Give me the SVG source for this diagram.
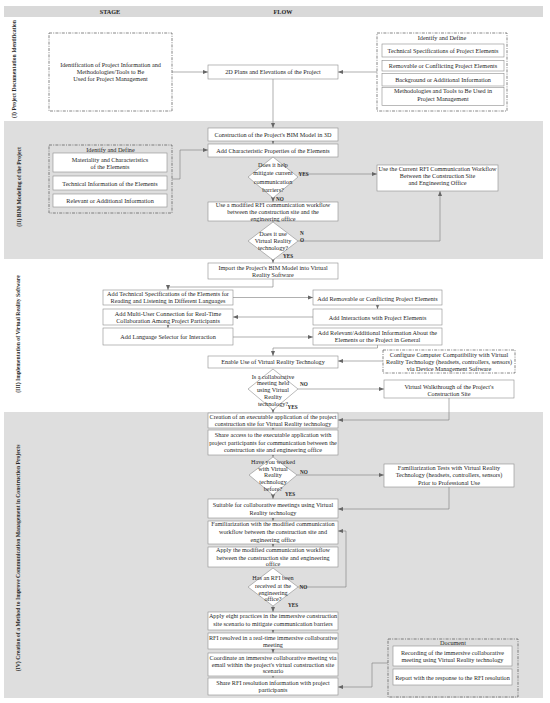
<svg xmlns="http://www.w3.org/2000/svg" width="550" height="703" viewBox="0 0 550 703">
<style>
text{font-family:"Liberation Serif","Times New Roman",serif;font-size:6.2px;fill:#262626;text-anchor:middle}
.b{font-weight:bold}
.lab{font-weight:bold;font-size:5.7px}
.box{fill:#fff;stroke:#8c8c8c;stroke-width:0.6}
.dd{fill:none;stroke:#555;stroke-width:0.7;stroke-dasharray:3 1.2 1 1.2}
.ddw{fill:#fff;stroke:#555;stroke-width:0.7;stroke-dasharray:3 1.2 1 1.2}
.dia{fill:#fff;stroke:#8c8c8c;stroke-width:0.6}
.c{fill:none;stroke:#7a7a7a;stroke-width:0.6;marker-end:url(#ah)}
.yn{font-weight:bold;font-size:5.2px;text-anchor:start}
</style>
<defs>
<marker id="ah" viewBox="0 0 6 6" refX="6" refY="3" markerWidth="5" markerHeight="5" markerUnits="userSpaceOnUse" orient="auto">
<path d="M0,0.6 L6,3 L0,5.4 z" fill="#666"/>
</marker>
</defs>
<rect width="550" height="703" fill="#fff"/>
<g id="bands">
<rect x="4" y="6" width="539" height="11" fill="#d9d9d9"/>
<rect x="4" y="121" width="539" height="138" fill="#dedede"/>
<rect x="4" y="412" width="539" height="286" fill="#dedede"/>
<text class="b" x="110" y="14.3">STAGE</text>
<text class="b" x="283" y="14.3">FLOW</text>
<text class="lab" transform="translate(15.5,69) rotate(-90)">(I) Project Documentation Identification</text>
<text class="lab" transform="translate(21,187) rotate(-90)">(II) BIM Modeling of the Project</text>
<text class="lab" transform="translate(20,334) rotate(-90)">(III) Implementation of Virtual Reality Software</text>
<text class="lab" transform="translate(20,558) rotate(-90)">(IV) Creation of a Method to Improve Communication Management in Construction Projects</text>
</g>
<g id="connectors">
<path class="c" d="M172,72 H208"/>
<path class="c" d="M377,72 H338"/>
<path class="c" d="M273,79 V128"/>
<path class="c" d="M273,141 V144"/>
<path class="c" d="M172,179 H180 V150 H208"/>
<path class="c" d="M298,174 H377"/>
<path class="c" d="M273,198 V202"/>
<path class="c" d="M273,221 V222"/>
<path class="c" d="M298,241 H440 V191"/>
<path class="c" d="M273,260 V263"/>
<path class="c" d="M273,279 V287 H168 V290"/>
<path class="c" d="M233,297.5 H313"/>
<path class="c" d="M377.5,305 V309"/>
<path class="c" d="M313,317 H233"/>
<path class="c" d="M168,325 V328"/>
<path class="c" d="M233,337 H313"/>
<path class="c" d="M377.5,345 V348 H273 V356"/>
<path class="c" d="M383,361 H338"/>
<path class="c" d="M298,389 H384"/>
<path class="c" d="M449,398 V420 H338"/>
<path class="c" d="M273,410 V413"/>
<path class="c" d="M273,428 V430"/>
<path class="c" d="M273,455 V457"/>
<path class="c" d="M297,475 H384"/>
<path class="c" d="M449,487 V509 H338"/>
<path class="c" d="M273,495 V499"/>
<path class="c" d="M273,518 V521"/>
<path class="c" d="M273,544 V547"/>
<path class="c" d="M298,587 H346 V531 H338"/>
<path class="c" d="M273,606 V612"/>
<path class="c" d="M273,630 V633"/>
<path class="c" d="M273,649 V653"/>
<path class="c" d="M273,676 V678"/>
<path class="c" d="M388,663 H372 V687 H338"/>
</g>
<g id="n_ident_left">
<rect class="dd" x="49" y="33" width="123" height="78"/>
<text x="110.5" y="67">Identification of Project Information and</text>
<text x="110.5" y="74">Methodologies/Tools to Be</text>
<text x="110.5" y="81">Used for Project Management</text>
</g>
<g id="n_2d">
<rect class="box" x="208" y="65" width="130" height="14"/>
<text x="273" y="74">2D Plans and Elevations of the Project</text>
</g>
<g id="n_ident_right">
<rect class="dd" x="377" y="33" width="130" height="78"/>
<text x="442" y="40.3">Identify and Define</text>
<rect class="box" x="382" y="44" width="122" height="13"/>
<text x="443" y="52.7">Technical Specifications of Project Elements</text>
<rect class="box" x="382" y="60.5" width="122" height="10.5"/>
<text x="443" y="67.9">Removable or Conflicting Project Elements</text>
<rect class="box" x="382" y="73.5" width="122" height="12.5"/>
<text x="443" y="81.7">Background or Additional Information</text>
<rect class="box" x="382" y="87.5" width="122" height="18"/>
<text x="443" y="93.2">Methodologies and Tools to Be Used in</text>
<text x="443" y="101.2">Project Management</text>
</g>
<g id="n_bim3d">
<rect class="box" x="208" y="128" width="130" height="13"/>
<text x="273" y="136.7">Construction of the Project's BIM Model in 3D</text>
</g>
<g id="n_addchar">
<rect class="box" x="208" y="144" width="130" height="13"/>
<text x="273" y="152.7">Add Characteristic Properties of the Elements</text>
</g>
<g id="n_ident_bim">
<rect class="dd" x="49" y="145" width="123" height="68"/>
<text x="110.5" y="151.7">Identify and Define</text>
<rect class="box" x="53" y="153" width="114" height="19"/>
<text x="110" y="161.5">Materiality and Characteristics</text>
<text x="110" y="168.9">of the Elements</text>
<rect class="box" x="53" y="176" width="114" height="14"/>
<text x="110" y="185.5">Technical Information of the Elements</text>
<rect class="box" x="53" y="194" width="114" height="13"/>
<text x="110" y="202.9">Relevant or Additional Information</text>
</g>
<g id="d_barriers">
<polygon class="dia" points="273,157 298,177 273,198 248,177"/>
<text x="273" y="167">Does it help</text>
<text x="273" y="175">mitigate current</text>
<text x="273" y="183.5">communication</text>
<text x="273" y="191.5">barriers?</text>
<text class="yn" x="298.5" y="175.5">YES</text>
<text class="yn" x="276" y="200.5">NO</text>
</g>
<g id="n_current">
<rect class="box" x="377" y="165" width="121" height="26"/>
<text x="437.5" y="170.7">Use the Current RFI Communication Workflow</text>
<text x="437.5" y="177.7">Between the Construction Site</text>
<text x="437.5" y="184.7">and Engineering Office</text>
</g>
<g id="n_modified">
<rect class="box" x="208" y="202" width="130" height="19"/>
<text x="273" y="206.5">Use a modified RFI communication workflow</text>
<text x="273" y="213.9">between the construction site and the</text>
<text x="273" y="220.5">engineering office</text>
</g>
<g id="d_vr">
<polygon class="dia" points="273,222 298,241 273,260 248,241"/>
<text x="273" y="236">Does it use</text>
<text x="273" y="243">Virtual Reality</text>
<text x="273" y="250">technology?</text>
<text class="yn" x="300" y="234.5">N</text>
<text class="yn" x="300" y="241.5">O</text>
<text class="yn" x="283" y="257.5">YES</text>
</g>
<g id="n_import">
<rect class="box" x="208" y="263" width="130" height="16"/>
<text x="273" y="269.5">Import the Project's BIM Model into Virtual</text>
<text x="273" y="276.5">Reality Software</text>
</g>
<g id="n_addtech">
<rect class="box" x="103" y="290" width="130" height="15"/>
<text x="168" y="295.7">Add Technical Specifications of the Elements for</text>
<text x="168" y="303.2">Reading and Listening in Different Languages</text>
</g>
<g id="n_addremovable">
<rect class="box" x="313" y="290" width="129" height="15"/>
<text x="377.5" y="300.5">Add Removable or Conflicting Project Elements</text>
</g>
<g id="n_interactions">
<rect class="box" x="313" y="309" width="129" height="16"/>
<text x="377.5" y="319.5">Add Interactions with Project Elements</text>
</g>
<g id="n_multiuser">
<rect class="box" x="103" y="309" width="130" height="16"/>
<text x="168" y="315.7">Add Multi-User Connection for Real-Time</text>
<text x="168" y="322.5">Collaboration Among Project Participants</text>
</g>
<g id="n_language">
<rect class="box" x="103" y="328" width="130" height="17"/>
<text x="168" y="338.9">Add Language Selector for Interaction</text>
</g>
<g id="n_relevant">
<rect class="box" x="313" y="328" width="129" height="17"/>
<text x="377.5" y="334.9">Add Relevant/Additional Information About the</text>
<text x="377.5" y="341.7">Elements or the Project in General</text>
</g>
<g id="n_enable">
<rect class="box" x="208" y="356" width="130" height="12"/>
<text x="273" y="364">Enable Use of Virtual Reality Technology</text>
</g>
<g id="n_configure">
<rect class="ddw" x="383" y="350" width="132" height="23"/>
<text x="449" y="357.2">Configure Computer Compatibility with Virtual</text>
<text x="449" y="364.2">Reality Technology (headsets, controllers, sensors)</text>
<text x="449" y="371.2">via Device Management Software</text>
</g>
<g id="d_meeting">
<polygon class="dia" points="273,369 298,389 273,410 248,389"/>
<text x="273" y="378.7">Is a collaborative</text>
<text x="273" y="385.3">meeting held</text>
<text x="273" y="392">using Virtual</text>
<text x="273" y="398.7">Reality</text>
<text x="273" y="405.5">technology?</text>
<text class="yn" x="300" y="386.3">NO</text>
<text class="yn" x="287.5" y="409">YES</text>
</g>
<g id="n_walk">
<rect class="box" x="384" y="380" width="130" height="18"/>
<text x="449" y="389">Virtual Walkthrough of the Project's</text>
<text x="449" y="395.7">Construction Site</text>
</g>
<g id="n_creation">
<rect class="box" x="208" y="413" width="130" height="15"/>
<text x="273" y="418.5">Creation of an executable application of the project</text>
<text x="273" y="426.2">construction site for Virtual Reality technology</text>
</g>
<g id="n_share">
<rect class="box" x="208" y="430" width="130" height="25"/>
<text x="273" y="437.2">Share access to the executable application with</text>
<text x="273" y="444.7">project participants for communication between the</text>
<text x="273" y="451.5">construction site and engineering office</text>
</g>
<g id="d_worked">
<polygon class="dia" points="273,457 297,475 273,495 249,475"/>
<text x="273" y="464">Have you worked</text>
<text x="273" y="470.5">with Virtual</text>
<text x="273" y="477">Reality</text>
<text x="273" y="484">technology</text>
<text x="273" y="491">before?</text>
<text class="yn" x="300" y="474">NO</text>
<text class="yn" x="285" y="495.5">YES</text>
</g>
<g id="n_famtests">
<rect class="box" x="384" y="464" width="130" height="23"/>
<text x="449" y="470.2">Familiarization Tests with Virtual Reality</text>
<text x="449" y="477.2">Technology (headsets, controllers, sensors)</text>
<text x="449" y="485.2">Prior to Professional Use</text>
</g>
<g id="n_suitable">
<rect class="box" x="208" y="499" width="130" height="19"/>
<text x="273" y="507.2">Suitable for collaborative meetings using Virtual</text>
<text x="273" y="514.5">Reality technology</text>
</g>
<g id="n_famwork">
<rect class="box" x="208" y="521" width="130" height="23"/>
<text x="273" y="526.2">Familiarization with the modified communication</text>
<text x="273" y="533.9">workflow between the construction site and</text>
<text x="273" y="541.5">engineering office</text>
</g>
<g id="n_apply">
<rect class="box" x="208" y="547" width="130" height="20"/>
<text x="273" y="552.2">Apply the modified communication workflow</text>
<text x="273" y="559.5">between the construction site and engineering</text>
<text x="273" y="566.2">office</text>
</g>
<g id="d_rfi">
<polygon class="dia" points="273,568 298,587 273,606 248,587"/>
<text x="273" y="580">Has an RFI been</text>
<text x="273" y="588">received at the</text>
<text x="273" y="595">engineering</text>
<text x="273" y="601">office?</text>
<text class="yn" x="299.5" y="589">NO</text>
<text class="yn" x="288" y="607">YES</text>
</g>
<g id="n_eight">
<rect class="box" x="208" y="612" width="130" height="18"/>
<text x="273" y="617.5">Apply eight practices in the immersive construction</text>
<text x="273" y="625.5">site scenario to mitigate communication barriers</text>
</g>
<g id="n_resolved">
<rect class="box" x="208" y="633" width="130" height="16"/>
<text x="273" y="639.5">RFI resolved in a real-time immersive collaborative</text>
<text x="273" y="647.2">meeting</text>
</g>
<g id="n_coord">
<rect class="box" x="208" y="653" width="130" height="23"/>
<text x="273" y="659.5">Coordinate an immersive collaborative meeting via</text>
<text x="273" y="666.5">email within the project's virtual construction site</text>
<text x="273" y="673.2">scenario</text>
</g>
<g id="n_sharerfi">
<rect class="box" x="208" y="678" width="130" height="17"/>
<text x="273" y="684.5">Share RFI resolution information with project</text>
<text x="273" y="692.2">participants</text>
</g>
<g id="n_document">
<rect class="dd" x="388" y="639" width="130" height="58"/>
<text x="453" y="645.2">Document</text>
<rect class="box" x="393" y="646" width="119" height="20"/>
<text x="452.5" y="655.2">Recording of the immersive collaborative</text>
<text x="452.5" y="662.2">meeting using Virtual Reality technology</text>
<rect class="box" x="393" y="669" width="119" height="16"/>
<text x="452.5" y="679.7">Report with the response to the RFI resolution</text>
</g>
</svg>
